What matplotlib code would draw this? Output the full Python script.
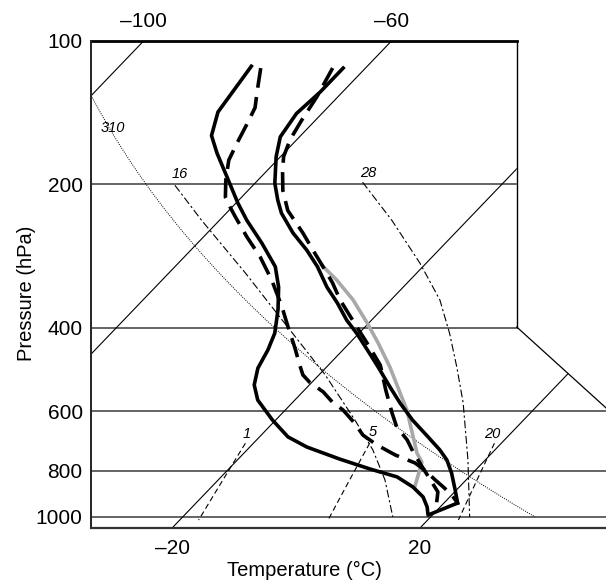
import numpy as np
import matplotlib.pyplot as plt
from matplotlib.patches import Polygon

plt.rcParams['font.family'] = ['Liberation Sans', 'DejaVu Sans']

# soundings: temperature (C) against pressure (hPa)
p_left_solid = [113, 141, 158, 172, 193, 219, 238, 266, 298, 329, 367, 411, 446, 487,
                528, 568, 626, 679, 713, 756, 793, 824, 865, 908, 953, 991, 935]
t_left_solid = [-78.7, -77.0, -74.4, -70.8, -65.5, -59.7, -55.6, -49.6, -43.8, -40.1,
                -36.7, -33.6, -32.1, -30.9, -28.9, -26.0, -20.5, -15.4, -10.8, -3.6,
                2.8, 8.4, 12.5, 15.7, 17.9, 19.3, 22.2]

p_left_dash = [114, 127, 138, 148, 164, 178, 196, 213, 223, 234, 258, 284, 318, 362, 399,
               440, 480, 503, 521, 546, 574, 596, 635, 673, 706, 741, 770, 797, 836, 865,
               899, 935]
t_left_dash = [-76.9, -74.0, -71.7, -70.6, -69.1, -67.8, -65.2, -62.6, -60.4, -58.0,
               -53.0, -47.8, -42.3, -36.5, -32.4, -28.2, -24.6, -22.6, -20.4, -16.7,
               -13.6, -10.7, -6.8, -3.6, 0.2, 4.7, 9.1, 11.8, 15.0, 17.4, 20.0, 22.2]

p_right_solid = [114, 128, 142, 159, 175, 199, 216, 230, 253, 275, 298, 329, 355, 386,
                 411, 453, 484, 533, 576, 626, 679, 723, 759, 809, 878, 935]
t_right_solid = [-63.6, -63.6, -64.1, -63.1, -60.7, -56.8, -53.7, -51.1, -46.2, -41.3,
                 -37.0, -32.3, -28.2, -24.0, -20.4, -15.2, -11.7, -6.7, -2.6, 2.1, 7.2,
                 11.1, 13.8, 16.6, 19.8, 22.2]

p_right_dash = [114, 131, 147, 161, 175, 189, 206, 227, 253, 275, 298, 322, 350, 399,
                440, 480, 541, 605, 647, 689, 730, 785, 845, 886, 958]
t_right_dash = [-65.3, -63.4, -62.2, -61.1, -59.5, -57.2, -54.4, -50.5, -44.6, -40.3,
                -36.1, -32.1, -28.2, -21.3, -16.1, -11.6, -6.9, -2.3, 0.6, 4.3, 7.1,
                10.9, 14.8, 17.3, 19.5]

p_parcel = [296, 318, 350, 391, 431, 484, 596, 734, 767, 865]
t_parcel = [-36.5, -31.8, -26.1, -20.3, -15.4, -9.8, -0.4, 7.9, 10.1, 12.8]

# saturated adiabats as drawn on the chart
p_sat16 = [201, 238, 307, 405, 503, 626, 723, 836, 1000]
t_sat16 = [-72.6, -62.9, -47.7, -31.6, -19.0, -7.2, 0.3, 6.9, 13.9]
p_sat28 = [198, 238, 293, 350, 411, 484, 576, 759, 1000]
t_sat28 = [-42.8, -32.2, -21.0, -12.1, -5.4, 1.0, 7.6, 17.2, 26.3]

isobars = [100, 200, 400, 600, 800, 1000]
isotherms = [-100, -60, -20, 20]
mixing_ratios = [1, 5, 20]
theta_dry = 310

SKEW = 32.0
P_BOT = 1055


def skew(t, p):
    return np.asarray(t, float) + SKEW * np.log(1000.0 / np.asarray(p, float))


fig = plt.figure(figsize=(6.06, 5.82), dpi=100)
ax = fig.add_axes([91 / 606, 54 / 582, 515 / 606, 487 / 582])
ax.set_yscale('log')
ax.minorticks_off()
ax.set_xlim(-34.8, 48.3)
ax.set_ylim(P_BOT, 100)
for s in ax.spines.values():
    s.set_visible(False)

# the chart outline: tall box above 400 hPa, wider below
x_l, x_box, x_r = -34.8, 33.9, 48.3
outline = [(x_l, 100), (x_box, 100), (x_box, 399), (x_r, 590), (x_r, P_BOT), (x_l, P_BOT)]
clip = Polygon(outline, closed=True, transform=ax.transData)


def clipped(line):
    for ln in line:
        ln.set_clip_path(clip)


for p in isobars[1:]:
    clipped(ax.plot([x_l, x_r], [p, p], color='#4a4a4a', lw=1.2))

pp = np.geomspace(100, P_BOT, 200)
for t in isotherms:
    clipped(ax.plot(skew(t, pp), pp, color='black', lw=0.8))

pd_ = np.geomspace(100, 1000, 200)
t_dry = theta_dry * (pd_ / 1000.0) ** 0.2857 - 273.15
clipped(ax.plot(skew(t_dry, pd_), pd_, color='black', lw=0.7, ls=(0, (1, 1.3))))

pw = np.geomspace(700, 1015, 40)
for w in mixing_ratios:
    e = w * pw / (622.0 + w)
    lg = np.log(e / 6.112)
    td = 243.5 * lg / (17.67 - lg)
    clipped(ax.plot(skew(td, pw), pw, color='black', lw=0.8, ls=(0, (5, 3))))

for t, p in [(t_sat16, p_sat16), (t_sat28, p_sat28)]:
    clipped(ax.plot(skew(t, p), p, color='black', lw=0.8, ls=(0, (7, 2.5, 2, 2.5))))

# frame
ax.plot([x_l, x_box], [100, 100], color='black', lw=2.0, clip_on=False)
ax.plot([x_l, x_l], [100, P_BOT], color='#222222', lw=1.4, clip_on=False)
ax.plot([x_box, x_box], [100, 399], color='black', lw=1.0, clip_on=False)
ax.plot([x_box, x_r], [399, 590], color='black', lw=0.9, clip_on=False)
ax.plot([x_l, x_r], [P_BOT, P_BOT], color='#333333', lw=1.6, clip_on=False)

# soundings
ax.plot(skew(t_parcel, p_parcel), p_parcel, color='#a8a8a8', lw=2.6)
ax.plot(skew(t_left_solid, p_left_solid), p_left_solid, color='black', lw=2.6)
ax.plot(skew(t_right_solid, p_right_solid), p_right_solid, color='black', lw=2.6)
ax.plot(skew(t_left_dash, p_left_dash), p_left_dash, color='black', lw=2.6,
        ls=(0, (5.5, 2.6)))
ax.plot(skew(t_right_dash, p_right_dash), p_right_dash, color='black', lw=2.6,
        ls=(0, (5.5, 2.6)))

# line labels
lab = dict(fontsize=10.5, style='italic', ha='center', va='center')
ax.text(-31.3, 152, '310', **lab)
ax.text(-20.4, 190, '16', **lab)
ax.text(9.9, 189, '28', **lab)
ax.text(-9.6, 668, '1', **lab)
ax.text(10.7, 663, '5', **lab)
ax.text(30.0, 668, '20', **lab)

# axes ticks
ax.set_yticks(isobars, [str(v) for v in isobars])
ax.tick_params(axis='y', length=0, pad=6, labelsize=15)
ax.set_xticks(skew([-20, 20], [P_BOT, P_BOT]), ['\u201320', '20'])
ax.tick_params(axis='x', length=0, pad=8, labelsize=15)
top = ax.secondary_xaxis('top')
top.set_xticks(skew([-100, -60], [100, 100]), ['\u2013100', '\u201360'])
top.tick_params(length=0, pad=7, labelsize=15)
top.spines['top'].set_visible(False)

fig.text(304 / 606, 1 - 570 / 582, 'Temperature (\u00b0C)', fontsize=14.5,
         ha='center', va='center')
fig.text(27 / 606, 1 - 293 / 582, 'Pressure (hPa)', fontsize=14.5, rotation=90,
         ha='center', va='center')

fig.savefig('out.png', dpi=100)
